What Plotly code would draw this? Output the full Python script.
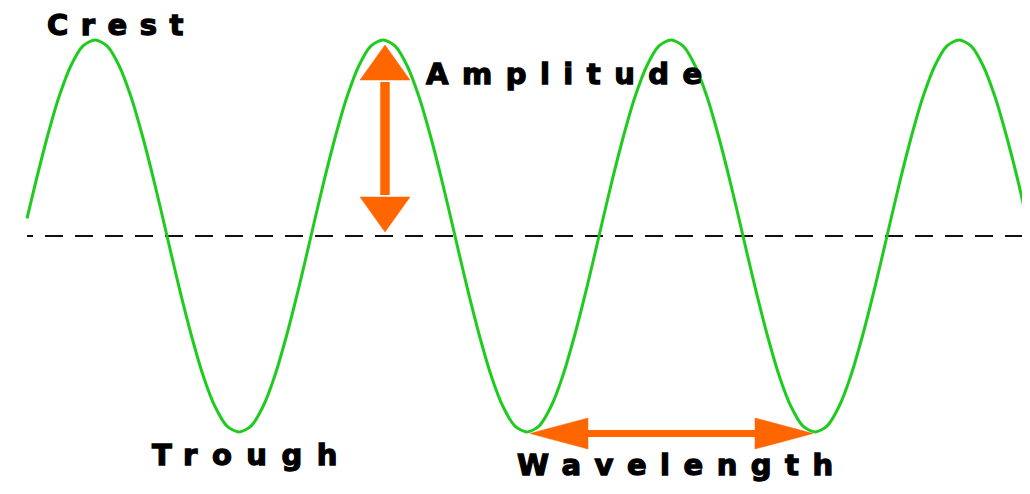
import plotly.graph_objects as go

# ---- data (x: horizontal distance, y: displacement, amplitude = 1) ----
wave_x = [27, 35, 47, 59, 71, 83, 95, 107, 119, 131, 143, 155, 167, 179, 191, 203, 215,
          227, 239, 251, 263, 275, 287, 299, 311, 323, 335, 347, 359, 371, 383, 395, 407,
          419, 431, 443, 455, 467, 479, 491, 503, 515, 527, 539, 551, 563, 575, 587, 599,
          611, 623, 635, 647, 659, 671, 683, 695, 707, 719, 731, 743, 755, 767, 779, 791,
          803, 815, 827, 839, 851, 863, 875, 887, 899, 911, 923, 935, 947, 959, 971, 983,
          995, 1007, 1019, 1028]
wave_y = [0.09, 0.26, 0.5, 0.71, 0.87, 0.97, 1.0, 0.97, 0.87, 0.71, 0.5, 0.26, 0.0, -0.26,
          -0.5, -0.71, -0.87, -0.97, -1.0, -0.97, -0.87, -0.71, -0.5, -0.26, 0.0, 0.26, 0.5,
          0.71, 0.87, 0.97, 1.0, 0.97, 0.87, 0.71, 0.5, 0.26, 0.0, -0.26, -0.5, -0.71, -0.87,
          -0.97, -1.0, -0.97, -0.87, -0.71, -0.5, -0.26, 0.0, 0.26, 0.5, 0.71, 0.87, 0.97,
          1.0, 0.97, 0.87, 0.71, 0.5, 0.26, 0.0, -0.26, -0.5, -0.71, -0.87, -0.97, -1.0,
          -0.97, -0.87, -0.71, -0.5, -0.26, 0.0, 0.26, 0.5, 0.71, 0.87, 0.97, 1.0, 0.97,
          0.87, 0.71, 0.5, 0.26, 0.05]

midline_x = [27, 1028]
midline_y = [0.0, 0.0]

# amplitude arrow: from midline to crest at x = 385
amp_x = 385
amp_from = 0.0
amp_to = 1.0
# wavelength arrow: between two troughs
wl_from = 527
wl_to = 815
wl_y = -1.0

labels = ["Crest", "Amplitude", "Trough", "Wavelength"]

# ---- layout / style ----
# the page places the figure 8px from the top-left corner; the axis ranges
# are chosen so that the drawing lands where it is in the reference
OFF = 8
W, H = 1030 - 2 * OFF, 494 - 2 * OFF
PX_PER_UNIT_Y = 196.0
MID_PX = 236.0
Y_MAX = (MID_PX - OFF) / PX_PER_UNIT_Y
Y_MIN = (MID_PX - (OFF + H)) / PX_PER_UNIT_Y
X_MIN, X_MAX = OFF, OFF + W
ppy = PX_PER_UNIT_Y
ppx = W / (X_MAX - X_MIN)

GREEN = "#1ecb1e"
ORANGE = "#ff6600"

label_pos = {
    "Crest": (121, 1.076),
    "Amplitude": (571, 0.827),
    "Trough": (252, -1.117),
    "Wavelength": (682, -1.168),
}
label_spacing = {"Crest": 12.5, "Amplitude": 13.5, "Trough": 14.5, "Wavelength": 13.5}

fig = go.Figure()

# midline
dash_pattern = "6px,12px" + ",18px,12px" * 40
fig.add_trace(go.Scatter(x=midline_x, y=midline_y, mode="lines",
                         line=dict(color="#111111", width=2.2, dash=dash_pattern),
                         hoverinfo="skip", showlegend=False))

# wave
fig.add_trace(go.Scatter(x=wave_x, y=wave_y, mode="lines",
                         line=dict(color=GREEN, width=3, shape="spline", smoothing=0.8),
                         hoverinfo="skip", showlegend=False))

# ---- amplitude arrow (vertical) ----
tip_in_top = 5 / ppy
tip_in_bot = 4 / ppy
head_len_v = 35 / ppy
head_half_w = 25 / ppx
shaft_w_v = 9.5

top_tip = amp_to - tip_in_top
bot_tip = amp_from + tip_in_bot
top_base = top_tip - head_len_v
bot_base = bot_tip + head_len_v

fig.add_trace(go.Scatter(x=[amp_x, amp_x], y=[top_base - 0.01, bot_base + 0.01], mode="lines",
                         line=dict(color=ORANGE, width=shaft_w_v),
                         hoverinfo="skip", showlegend=False))
for tip, base in [(top_tip, top_base), (bot_tip, bot_base)]:
    fig.add_trace(go.Scatter(x=[amp_x, amp_x - head_half_w, amp_x + head_half_w, amp_x],
                             y=[tip, base, base, tip], mode="lines", fill="toself",
                             fillcolor=ORANGE, line=dict(color=ORANGE, width=0.5),
                             hoverinfo="skip", showlegend=False))

# ---- wavelength arrow (horizontal) ----
wl_off = -1.5 / ppy
yw = wl_y + wl_off
tip_l = wl_from + 3 / ppx
tip_r = wl_to - 2 / ppx
head_len_h = 58 / ppx
head_half_h = 15.5 / ppy
shaft_w_h = 7
base_l = tip_l + head_len_h
base_r = tip_r - head_len_h

fig.add_trace(go.Scatter(x=[base_l - 2, base_r + 2], y=[yw, yw], mode="lines",
                         line=dict(color=ORANGE, width=shaft_w_h),
                         hoverinfo="skip", showlegend=False))
for tip, base in [(tip_l, base_l), (tip_r, base_r)]:
    fig.add_trace(go.Scatter(x=[tip, base, base, tip],
                             y=[yw, yw + head_half_h, yw - head_half_h, yw], mode="lines",
                             fill="toself", fillcolor=ORANGE, line=dict(color=ORANGE, width=0.5),
                             hoverinfo="skip", showlegend=False))

# ---- labels ----
for name in labels:
    lx, ly = label_pos[name]
    fig.add_annotation(x=lx, y=ly, xref="x", yref="y", showarrow=False,
                       text='<span style="letter-spacing:%spx;stroke:#000000;stroke-width:1.3px">'
                            % label_spacing[name] + name + '</span>',
                       xanchor="center", yanchor="middle",
                       font=dict(family="DejaVu Sans", size=29, color="#000000", weight="bold"))

fig.update_layout(
    width=W, height=H,
    margin=dict(l=0, r=0, t=0, b=0),
    paper_bgcolor="white", plot_bgcolor="white",
    xaxis=dict(range=[X_MIN, X_MAX], visible=False, fixedrange=True),
    yaxis=dict(range=[Y_MIN, Y_MAX], visible=False, fixedrange=True),
    showlegend=False,
)

fig.write_html("out.html")
